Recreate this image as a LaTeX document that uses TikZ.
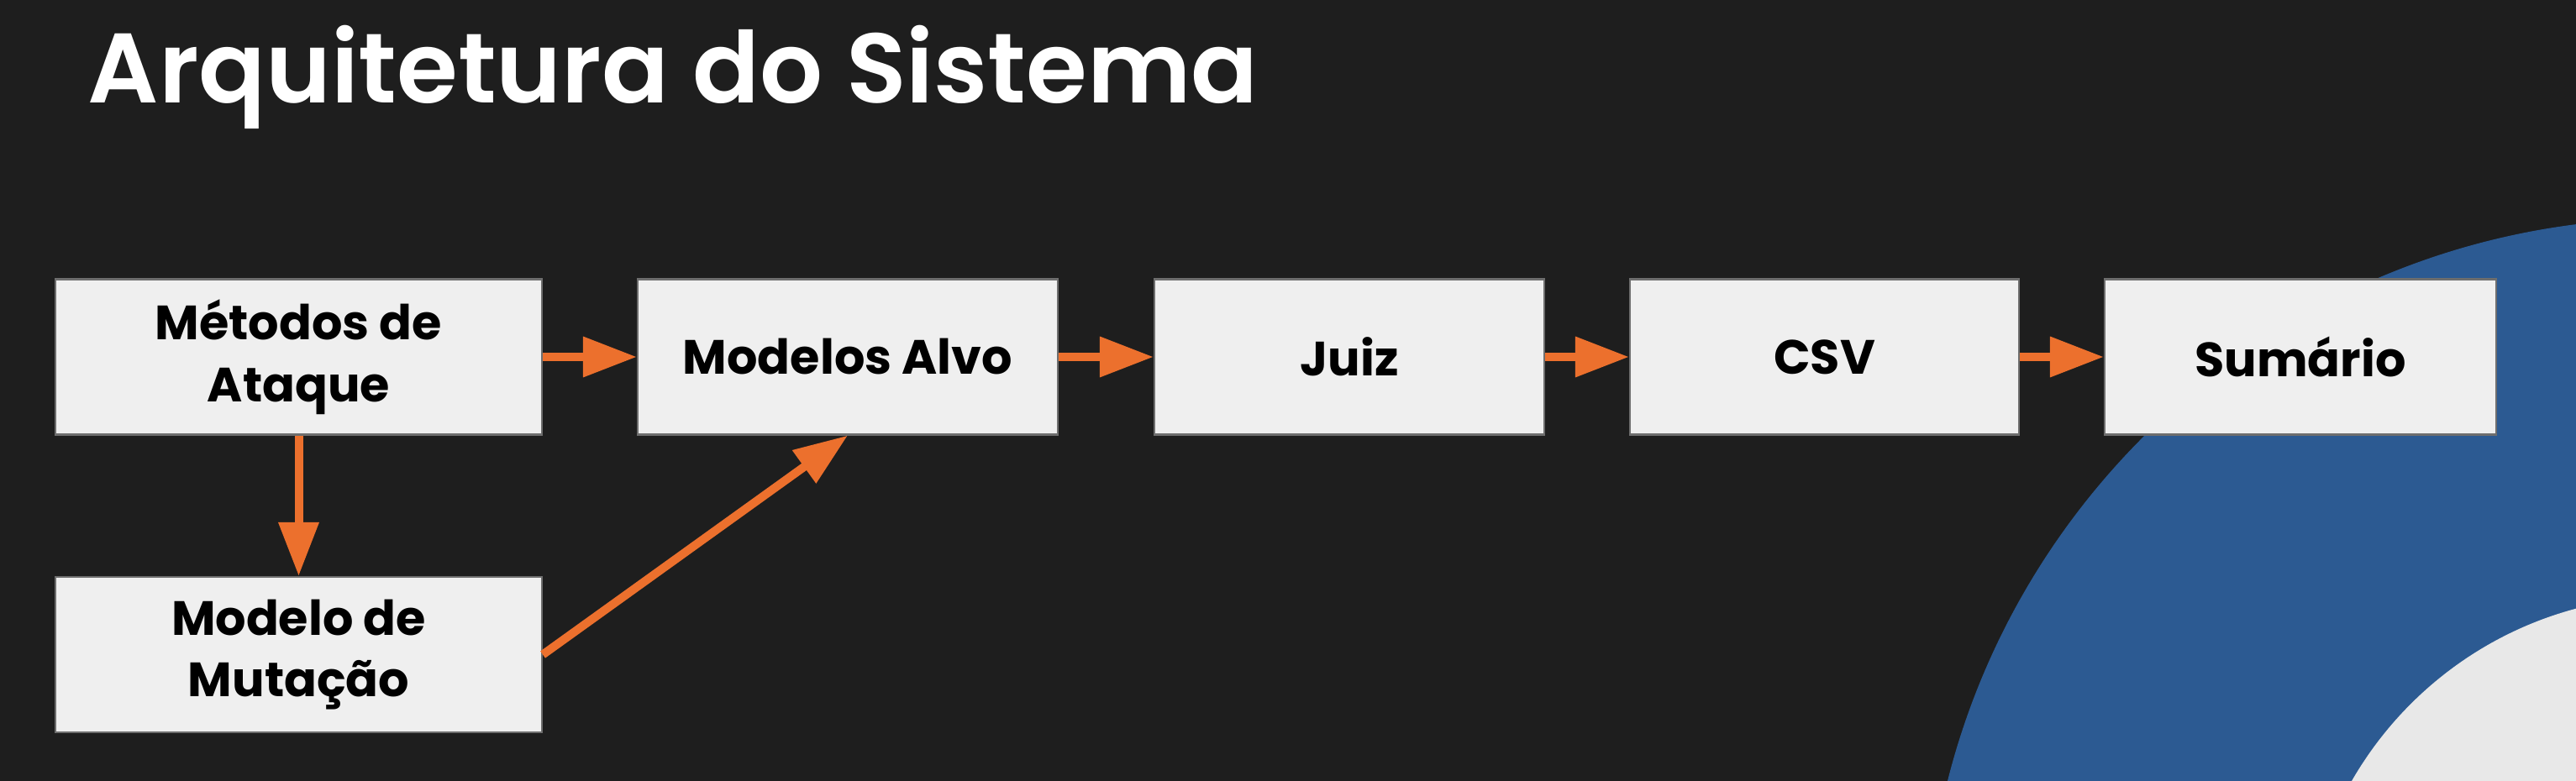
\documentclass[tikz,border=0pt]{standalone}
\usepackage{fontspec}
\setmainfont{Poppins}
\newfontfamily\semibold{Poppins SemiBold}
\usetikzlibrary{arrows.meta}

\definecolor{fundo}{HTML}{1E1E1E}
\definecolor{azul}{HTML}{2C5A92}
\definecolor{claro}{HTML}{E8E8E8}
\definecolor{caixa}{HTML}{EFEFEF}
\definecolor{borda}{HTML}{6E6E6E}
\definecolor{laranja}{HTML}{EC702D}

\begin{document}
\begin{tikzpicture}[
    bloco/.style={draw=borda, line width=0.6pt, fill=caixa, text=black,
        minimum height=1.85cm, inner sep=0pt, align=center,
        font=\fontsize{16.3}{21}\selectfont\bfseries},
    seta/.style={draw=laranja, line width=0.1cm,
        -{Triangle[length=0.64cm, width=0.46cm]}}
]
    % fundo e anel decorativo
    \fill[fundo] (0,0) rectangle (30.66,-9.30);
    \begin{scope}
        \clip (0,0) rectangle (30.66,-9.30);
        \fill[azul] (31.79,-11.48) circle (8.88);
        \fill[claro] (31.79,-11.48) circle (4.38);
    \end{scope}
    \useasboundingbox (0,0) rectangle (30.66,-9.30);

    \node[anchor=base west, inner sep=0pt, text=white,
        font=\fontsize{33.5}{38}\selectfont\semibold] (titulo) at (1.04,-1.23)
        {Arquitetura do Sistema};

    % blocos
    \node[bloco, minimum width=5.79cm] (metodos) at (3.555,-4.25) {Métodos de\\Ataque};
    \node[bloco, minimum width=5.00cm] (alvo) at (10.09,-4.25) {Modelos Alvo};
    \node[bloco, minimum width=4.64cm] (juiz) at (16.06,-4.25) {Juiz};
    \node[bloco, minimum width=4.63cm] (csv) at (21.715,-4.25) {CSV};
    \node[bloco, minimum width=4.66cm] (sumario) at (27.38,-4.25) {Sumário};
    \node[bloco, minimum width=5.79cm] (mutacao) at (3.555,-7.795) {Modelo de\\Mutação};

    % fluxo
    \draw[seta] (metodos) -- (alvo);
    \draw[seta] (alvo) -- (juiz);
    \draw[seta] (juiz) -- (csv);
    \draw[seta] (csv) -- (sumario);
    \draw[seta] (metodos) -- (mutacao);
    \draw[seta] (mutacao.east) -- (alvo.south);
\end{tikzpicture}
\end{document}
